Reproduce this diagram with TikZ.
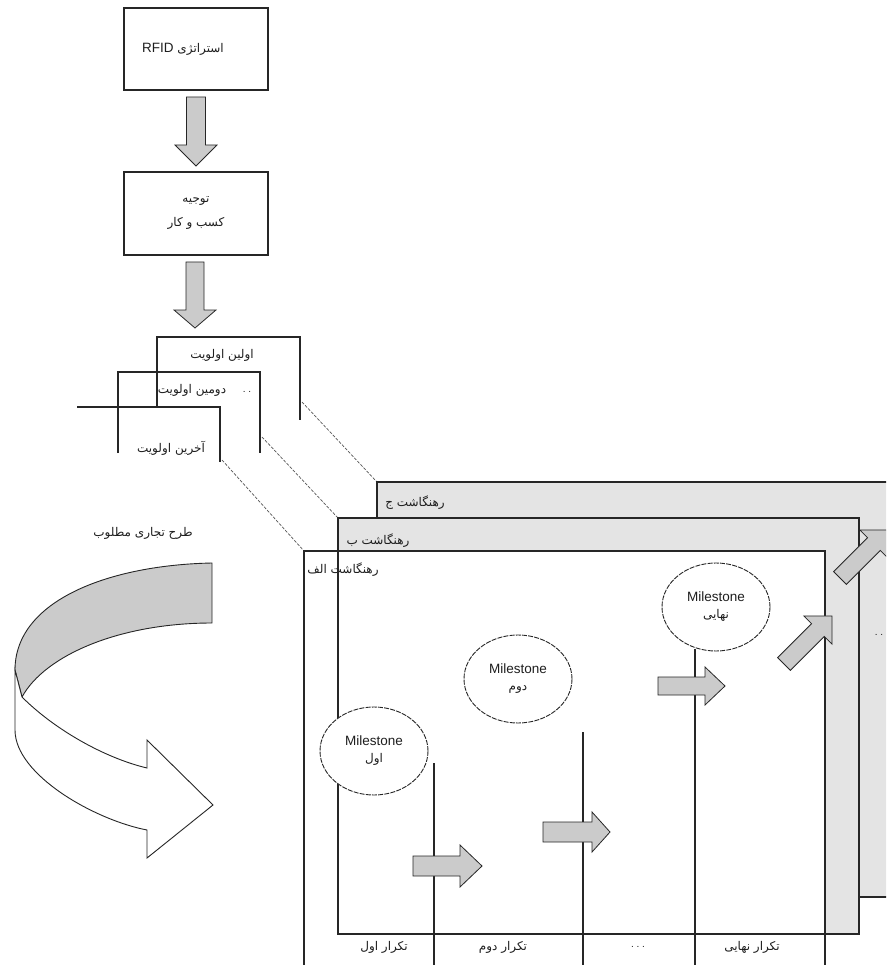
\documentclass[tikz,border=0pt]{standalone}
\usepackage{fontspec}
\setmainfont{Liberation Sans}
\newfontfamily\fa[Script=Arabic]{DejaVu Sans}
\TeXXeTstate=1
\usetikzlibrary{shapes.geometric}
\definecolor{linec}{HTML}{262626}
\definecolor{txtc}{HTML}{1E1E1E}
\definecolor{bandgray}{HTML}{E4E4E4}
\definecolor{arrgray}{HTML}{CBCBCB}
\definecolor{dashc}{HTML}{555555}
\newcommand{\fatxt}[1]{{\fa\fontsize{12}{14}\selectfont\beginR #1\endR}}
\newcommand{\blockarr}[7]{%
  \begin{scope}[shift={(#1,#2)},rotate=#3]
    \draw[arrsty] (0,-#5) -- ({#4-#7},-#5) -- ({#4-#7},-#6) -- (#4,0) -- ({#4-#7},#6) -- ({#4-#7},#5) -- (0,#5) -- cycle;
  \end{scope}}
\begin{document}
\begin{tikzpicture}[x=1pt,y=-1pt,
  ln/.style={draw=linec,line width=1.1pt},
  arrsty/.style={draw=linec,line width=0.8pt,fill=arrgray,line join=miter},
  conn/.style={draw=dashc,line width=0.7pt,dash pattern=on 3pt off 1.5pt},
  boxnode/.style={rectangle,draw=linec,line width=1.1pt,minimum width=144pt,minimum height=82pt,inner sep=0pt,align=center,text=txtc,font=\fontsize{12}{16}\selectfont},
  lbl/.style={text=txtc,inner sep=0pt},
  mile/.style={ellipse,draw=linec,line width=0.9pt,dash pattern=on 5pt off 1.2pt,fill=white,minimum width=108pt,minimum height=88pt,inner sep=0pt,align=center,text=txtc,font=\fontsize{13.5}{15}\selectfont}]
\useasboundingbox (0,0) rectangle (886,965);
\begin{scope}
\clip (0,0) rectangle (886,965);
% top boxes
\node[boxnode] (strat) at (196,49) {\hspace*{-26pt}\fatxt{استراتژی \beginL{\rmfamily\fontsize{13.5}{14}\selectfont RFID}\endL}};
\node[boxnode,minimum height=83pt] (biz) at (196,213.5) {\fatxt{توجیه}\\[8pt]\fatxt{کسب و کار}};
\blockarr{196}{97}{-90}{69}{9.5}{21}{21}
\blockarr{195}{262}{-90}{66}{9}{21}{18}
% priority stack
\draw[ln] (157,407) -- (157,337) -- (300,337) -- (300,420);
\draw[ln] (118,453) -- (118,372) -- (260,372) -- (260,453);
\draw[ln] (77,407) -- (220,407) -- (220,462);
\node[lbl] (p1) at (222,355) {\fatxt{اولین اولویت}};
\node[lbl] (p2) at (192,390) {\fatxt{دومین اولویت}};
\node[lbl,font=\fontsize{10}{12}\selectfont] (p2d) at (247,392) {.\ .};
\node[lbl] (p3) at (171,448) {\fatxt{آخرین اولویت}};
% connector ends
\coordinate (p1e) at (302,402);
\coordinate (p2e) at (262,437);
\coordinate (p3e) at (222,460);
\coordinate (r3c) at (377,482);
\coordinate (r2c) at (338,518);
\coordinate (r1c) at (304,551);
\draw[conn] (p1e) -- (r3c);
\draw[conn] (p2e) -- (r2c);
\draw[conn] (p3e) -- (r1c);
% roadmaps
\draw[ln,fill=bandgray] (r3c) rectangle (900,897);
\draw[ln,fill=bandgray] (r2c) rectangle (859,934);
\draw[ln,fill=white] (r1c) rectangle (825,985);
\node[lbl] (r3) at (415,503) {\fatxt{رهنگاشت ج}};
\node[lbl] (r2) at (378,541) {\fatxt{رهنگاشت ب}};
\node[lbl] (r1) at (343,570) {\fatxt{رهنگاشت الف}};
\node[lbl,font=\fontsize{10}{12}\selectfont] (rdots) at (879,635) {.\ .};
% iteration frame
\coordinate (c1b) at (434,985);
\coordinate (c2b) at (583,985);
\coordinate (c3t) at (695,649);
\coordinate (c3b) at (695,985);
\draw[ln] (338,551) -- (338,934) -- (825,934);
\draw[ln] (434,763) -- (c1b);
\draw[ln] (583,732) -- (c2b);
% horizontal block arrows
\blockarr{413}{866}{0}{69}{10}{21}{22}
\blockarr{543}{832}{0}{67}{10}{20}{18}
% milestones
\node[mile] (m1) at (374,751) {Milestone\\[2pt]\fatxt{اول}};
\node[mile] (m2) at (518,679) {Milestone\\[2pt]\fatxt{دوم}};
\node[mile] (m3) at (716,607) {Milestone\\[2pt]\fatxt{نهایی}};
\draw[ln] (c3t) -- (c3b);
\blockarr{658}{686}{0}{67}{9}{19}{20}
\blockarr{784}{664}{45}{68}{9}{20}{20}
\blockarr{840}{578}{45}{68}{9}{20}{20}
% bottom labels
\node[lbl] (t1) at (384,947) {\fatxt{تکرار اول}};
\node[lbl] (t2) at (503,947) {\fatxt{تکرار دوم}};
\node[lbl,font=\fontsize{10}{12}\selectfont] (t3) at (638,947) {.\ .\ .};
\node[lbl] (t4) at (752,947) {\fatxt{تکرار نهایی}};
% curved arrow
\node[lbl] (plan) at (143,533) {\fatxt{طرح تجاری مطلوب}};
\draw[draw=linec,line width=0.9pt,fill=arrgray] (212,563) .. controls (110,565) and (15,600) .. (15,670) -- (22,697) .. controls (45,655) and (120,623) .. (212,623) -- cycle;
\draw[draw=linec,line width=0.9pt,fill=white,line join=miter] (22,697) .. controls (55,730) and (105,758) .. (147,768) -- (147,740) -- (213,805) -- (147,858) -- (147,830) .. controls (95,820) and (15,775) .. (15,730) -- (15,670) -- cycle;
\end{scope}
\end{tikzpicture}
\end{document}
